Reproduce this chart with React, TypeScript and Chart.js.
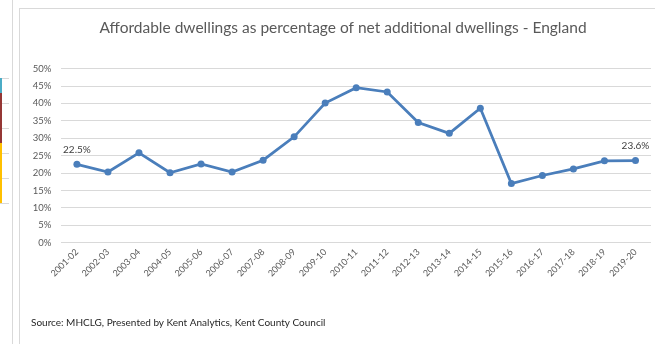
import React, { useEffect, useRef } from "react";
import { Chart, registerables } from "chart.js";

Chart.register(...registerables);

const categories = [
  "2001-02", "2002-03", "2003-04", "2004-05", "2005-06", "2006-07", "2007-08",
  "2008-09", "2009-10", "2010-11", "2011-12", "2012-13", "2013-14", "2014-15",
  "2015-16", "2016-17", "2017-18", "2018-19", "2019-20",
];
const affordablePct = [
  22.5, 20.3, 25.8, 20.1, 22.6, 20.3, 23.7, 30.4, 40.1, 44.5, 43.3, 34.5, 31.4,
  38.6, 17.0, 19.3, 21.2, 23.5, 23.6,
];
const labelledIndexes = [0, 18];
const titleText = "Affordable dwellings as percentage of net additional dwellings - England";
const sourceText = "Source: MHCLG, Presented by Kent Analytics, Kent County Council";

const FONT = "Lato, 'Open Sans', sans-serif";
const LINE = "#4a7ebb";
const GRID = "#d9d9d9";

const dataLabelPlugin = {
  id: "endLabels",
  afterDatasetsDraw(chart: any) {
    const meta = chart.getDatasetMeta(0);
    const ctx = chart.ctx;
    ctx.save();
    ctx.font = `10px ${FONT}`;
    ctx.fillStyle = "#404040";
    ctx.textAlign = "center";
    ctx.textBaseline = "middle";
    labelledIndexes.forEach((i) => {
      const pt = meta.data[i];
      ctx.fillText(affordablePct[i].toFixed(1) + "%", pt.x, pt.y - 15);
    });
    ctx.restore();
  },
};

export default function App() {
  const ref = useRef<HTMLCanvasElement>(null);
  useEffect(() => {
    if (!ref.current) return;
    const chart = new Chart(ref.current, {
      type: "line",
      data: {
        labels: categories,
        datasets: [
          {
            data: affordablePct,
            borderColor: LINE,
            backgroundColor: LINE,
            borderWidth: 2.75,
            pointRadius: 3.5,
            pointBorderWidth: 0,
            pointBackgroundColor: LINE,
            tension: 0,
          },
        ],
      },
      options: {
        animation: false,
        responsive: false,
        layout: { padding: { left: 31, right: 0, top: 0, bottom: 0 } },
        plugins: {
          legend: { display: false },
          tooltip: { enabled: false },
          title: {
            display: true,
            text: titleText,
            color: "#595959",
            font: { family: FONT, size: 15.5, weight: "normal" },
            padding: { top: 19, bottom: 31 },
          },
          subtitle: {
            display: true,
            position: "bottom",
            align: "start",
            text: sourceText,
            color: "#262626",
            font: { family: FONT, size: 10, weight: "normal" },
            padding: { top: 2, bottom: 15 },
          },
        },
        scales: {
          x: {
            offset: true,
            grid: { display: false, drawTicks: false },
            border: { display: false },
            ticks: {
              color: "#595959",
              font: { family: FONT, size: 9 },
              minRotation: 45,
              maxRotation: 45,
              padding: 4,
              autoSkip: false,
            },
            afterFit: (scale: any) => {
              scale.height = 72.3;
            },
          },
          y: {
            min: 0,
            max: 50,
            grid: { color: GRID, drawTicks: false, lineWidth: 1 },
            border: { display: false },
            ticks: {
              stepSize: 5,
              color: "#595959",
              font: { family: FONT, size: 9.5 },
              padding: 10,
              callback: (v: any) => v + "%",
            },
            afterFit: (scale: any) => {
              scale.width = 30.4;
            },
          },
        },
      },
      plugins: [dataLabelPlugin],
    });
    return () => chart.destroy();
  }, []);

  const gridYs = [78, 103, 128, 153, 178, 203];
  return (
    <div
      style={{
        position: "absolute",
        left: 0,
        top: 0,
        width: 655,
        height: 344,
        background: "#fff",
        overflow: "hidden",
      }}
    >
      {gridYs.map((y) => (
        <div key={y} style={{ position: "absolute", left: 0, top: y, width: 9, height: 1, background: GRID }} />
      ))}
      <div style={{ position: "absolute", left: 0, top: 78, width: 1.5, height: 15, background: "#4bacc6" }} />
      <div style={{ position: "absolute", left: 0, top: 93, width: 1.5, height: 50, background: "#953735" }} />
      <div style={{ position: "absolute", left: 0, top: 143, width: 1.5, height: 60, background: "#ffc000" }} />
      <div style={{ position: "absolute", left: 12, top: 0, width: 1, height: 344, background: GRID }} />
      <div style={{ position: "absolute", left: 19, top: 8, width: 1, height: 336, background: GRID }} />
      <div style={{ position: "absolute", left: 19, top: 8, width: 636, height: 1, background: GRID }} />
      <canvas
        ref={ref}
        width={655}
        height={344}
        style={{ position: "absolute", left: 0, top: 0, width: 655, height: 344 }}
      />
    </div>
  );
}
